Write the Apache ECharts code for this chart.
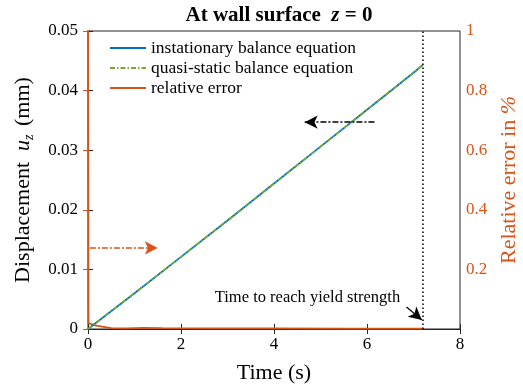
<!DOCTYPE html>
<html>
<head>
<meta charset="utf-8">
<script src="https://cdn.jsdelivr.net/npm/echarts@6/dist/echarts.min.js"></script>
<style>
  html, body { margin: 0; padding: 0; background: #fff; }
  #main { width: 523px; height: 384px; }
</style>
</head>
<body>
<div id="main"></div>
<script>
// time (s) and displacement u_z (mm)
const time = [0, 1, 2, 3, 4, 5, 6, 7, 7.2]
const instationary = [0, 0.0060, 0.0121, 0.0182, 0.0244, 0.0306, 0.0368, 0.0430, 0.0443]
const quasiStatic = [0, 0.0060, 0.0121, 0.0182, 0.0244, 0.0306, 0.0368, 0.0430, 0.0443]
// relative error in %
const errTime = [0, 0.01, 0.15, 0.3, 0.5, 0.8, 1.2, 1.6, 2.5, 4, 5.5, 7.2]
const relError = [1.2, 0.02, 0.012, 0.008, 0.003, 0.002, 0.004, 0.003, 0.002, 0.002, 0.001, 0.001]
const yieldTime = 7.2

const font = 'Liberation Serif'
const orange = '#D95319'
const dark = '#262626'

const pair = (xs, ys) => xs.map((x, i) => [x, ys[i]])

const myChart = echarts.init(document.getElementById('main'))
myChart.setOption({
  animation: false,
  textStyle: { fontFamily: font },
  title: {
    text: 'At wall surface  {z|z} = 0',
    left: 274,
    textAlign: 'center',
    top: 0,
    textStyle: {
      fontFamily: font, fontSize: 21, fontWeight: 'bold', color: '#000',
      rich: { z: { fontFamily: font, fontSize: 21, fontWeight: 'bold', fontStyle: 'italic', color: '#000' } },
    },
  },
  grid: {
    left: 88, right: 63, top: 31, bottom: 55,
    containLabel: false, outerBoundsMode: 'none',
    show: true, borderColor: dark, borderWidth: 1,
  },
  legend: {
    orient: 'vertical',
    left: 104,
    top: 34,
    itemWidth: 36,
    itemHeight: 14,
    itemGap: 2,
    itemStyle: { opacity: 0 },
    textStyle: { fontFamily: font, fontSize: 17.5, color: '#000' },
    data: ['instationary balance equation', 'quasi-static balance equation', 'relative error'],
  },
  xAxis: [
    {
      type: 'value', min: 0, max: 8, interval: 2,
      name: 'Time (s)', nameLocation: 'middle', nameGap: 33,
      nameTextStyle: { fontFamily: font, fontSize: 22, color: '#000' },
      axisLine: { show: true, lineStyle: { color: dark } },
      axisTick: { inside: true, length: 5, lineStyle: { color: dark } },
      axisLabel: { fontFamily: font, fontSize: 17, color: '#000', margin: 7 },
      splitLine: { show: false },
    },
    {
      type: 'value', min: 0, max: 8, interval: 2, position: 'top',
      axisLine: { show: false },
      axisTick: { inside: true, length: 5, lineStyle: { color: dark } },
      axisLabel: { show: false },
      splitLine: { show: false },
    },
  ],
  yAxis: [
    {
      type: 'value', min: 0, max: 0.05, interval: 0.01,
      name: 'Displacement  {i|u}{s|z} (mm)', nameLocation: 'middle', nameGap: 52, nameRotate: 90,
      nameTextStyle: {
        fontFamily: font, fontSize: 22, color: '#000',
        rich: {
          i: { fontFamily: font, fontSize: 22, fontStyle: 'italic', color: '#000' },
          s: { fontFamily: font, fontSize: 14, fontStyle: 'italic', color: '#000', padding: [12, 3, 0, 0] },
        },
      },
      axisLine: { show: true, lineStyle: { color: dark } },
      axisTick: { inside: true, length: 5, lineStyle: { color: dark } },
      axisLabel: { fontFamily: font, fontSize: 17, color: '#000', margin: 10 },
      splitLine: { show: false },
    },
    {
      type: 'value', min: 0, max: 1, interval: 0.2, position: 'right',
      name: 'Relative error in {i|%}', nameLocation: 'middle', nameGap: 38, nameRotate: 90,
      nameTextStyle: {
        fontFamily: font, fontSize: 22, color: orange,
        rich: { i: { fontFamily: font, fontSize: 22, fontStyle: 'italic', color: orange } },
      },
      axisLine: { show: true, lineStyle: { color: orange } },
      axisTick: { inside: true, length: 5, lineStyle: { color: orange } },
      axisLabel: {
        fontFamily: font, fontSize: 17, color: orange, margin: 6,
        formatter: v => (v === 0 ? '' : String(Math.round(v * 10) / 10)),
      },
      splitLine: { show: false },
    },
  ],
  series: [
    {
      name: 'instationary balance equation',
      type: 'line', showSymbol: false, symbol: 'none',
      data: pair(time, instationary),
      lineStyle: { color: '#0072BD', width: 1.8 },
      itemStyle: { color: '#0072BD' },
      z: 3,
    },
    {
      name: 'quasi-static balance equation',
      type: 'line', showSymbol: false, symbol: 'none',
      data: pair(time, quasiStatic),
      lineStyle: { color: '#77AC30', width: 1.6, type: [5, 2, 1.5, 2] },
      itemStyle: { color: '#77AC30' },
      z: 4,
      markLine: {
        silent: true, symbol: ['none', 'arrow'], symbolSize: [10, 13],
        label: { show: false },
        data: [
          [
            { coord: [6.16, 0.0347], lineStyle: { color: '#000', type: [6, 2, 2, 2], width: 1.6 } },
            { coord: [4.66, 0.0347] },
          ],
          [
            { coord: [6.85, 0.0037], lineStyle: { color: '#000', type: 'solid', width: 1.2 } },
            { coord: [7.18, 0.0015] },
          ],
        ],
      },
      markPoint: {
        silent: true, symbol: 'circle', symbolSize: 0,
        data: [{ coord: [4.72, 0.0053], value: 'Time to reach yield strength' }],
        label: { show: true, formatter: '{c}', fontFamily: font, fontSize: 16.5, color: '#000' },
      },
    },
    {
      name: 'relative error',
      type: 'line', yAxisIndex: 1, showSymbol: false, symbol: 'none',
      data: pair(errTime, relError),
      lineStyle: { color: orange, width: 1.8 },
      itemStyle: { color: orange },
      z: 2,
      markLine: {
        silent: true, symbol: ['none', 'arrow'], symbolSize: [10, 13],
        label: { show: false },
        data: [
          [
            { coord: [0.04, 0.272], lineStyle: { color: orange, type: [6, 2, 2, 2], width: 1.6 } },
            { coord: [1.5, 0.272] },
          ],
          [
            { coord: [yieldTime, 0], symbol: 'none', lineStyle: { color: '#000', type: [1.5, 2.5], width: 1.5 } },
            { coord: [yieldTime, 1], symbol: 'none' },
          ],
        ],
      },
    },
  ],
})
</script>
</body>
</html>
